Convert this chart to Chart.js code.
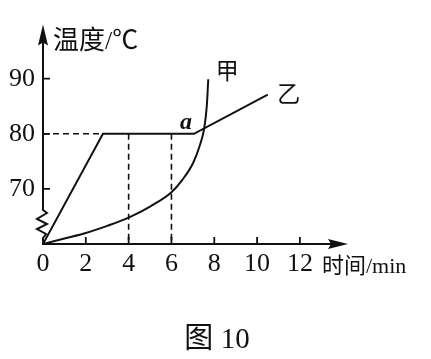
<!DOCTYPE html>
<html>
<head>
<meta charset="utf-8">
<script src="https://cdn.jsdelivr.net/npm/chart.js@4"></script>
<style>
  html, body { margin: 0; padding: 0; background: #fff; }
  #wrap { width: 431px; height: 359px; }
</style>
</head>
<body>
<div id="wrap"><canvas id="tempChart"></canvas></div>
<script>
// 甲、乙两种物质加热时温度随时间变化
const jiaTime = [0, 1, 2, 3, 4, 5, 6, 6.5, 7, 7.3, 7.53, 7.65, 7.72];
const jiaTemp = [60, 61, 62, 63.3, 64.8, 66.8, 69.4, 71.6, 74.6, 77.6, 81, 85, 89.9];
const yiTime = [0, 2.8, 7.05, 10.5];
const yiTemp = [60, 80, 80, 87.1];
const xTicks = [0, 2, 4, 6, 8, 10, 12];
const yTicks = [70, 80, 90];
const guideX = [4, 6];

const pts = (xs, ys) => xs.map((x, i) => ({ x, y: ys[i] }));
const serif = '"Liberation Serif", "Noto Sans CJK SC", serif';

const dashed = {
  borderColor: '#111',
  borderWidth: 1.6,
  borderDash: [6, 4],
  pointRadius: 0,
  fill: false,
};

const decor = {
  id: 'decor',
  afterDraw(chart) {
    const { ctx, chartArea: a, scales: { x, y } } = chart;
    const x0 = x.getPixelForValue(0);
    const y0 = y.getPixelForValue(60);
    ctx.save();
    ctx.strokeStyle = '#111';
    ctx.fillStyle = '#111';
    ctx.lineWidth = 2;
    ctx.lineJoin = 'miter';

    // 纵轴 + 折断号
    ctx.beginPath();
    ctx.moveTo(x0, a.top + 18);
    ctx.lineTo(x0, y0 - 34);
    ctx.lineTo(x0 + 4, y0 - 31);
    ctx.lineTo(x0 - 6, y0 - 25);
    ctx.lineTo(x0 + 4, y0 - 20);
    ctx.lineTo(x0 - 6, y0 - 15);
    ctx.lineTo(x0 + 3, y0 - 10);
    ctx.lineTo(x0, y0 - 6);
    ctx.lineTo(x0, y0);
    ctx.stroke();
    // 纵轴箭头
    ctx.beginPath();
    ctx.moveTo(x0, a.top + 1);
    ctx.lineTo(x0 - 5, a.top + 22);
    ctx.lineTo(x0, a.top + 19);
    ctx.lineTo(x0 + 5, a.top + 22);
    ctx.closePath();
    ctx.fill();

    // 横轴
    ctx.beginPath();
    ctx.moveTo(x0 - 1, y0);
    ctx.lineTo(a.right - 14, y0);
    ctx.stroke();
    ctx.beginPath();
    ctx.moveTo(a.right + 1, y0);
    ctx.lineTo(a.right - 19, y0 - 5);
    ctx.lineTo(a.right - 16, y0);
    ctx.lineTo(a.right - 19, y0 + 5);
    ctx.closePath();
    ctx.fill();

    // 刻度线(向内)
    ctx.lineWidth = 1.8;
    ctx.beginPath();
    xTicks.filter((v) => v > 0).forEach((v) => {
      const px = x.getPixelForValue(v);
      ctx.moveTo(px, y0);
      ctx.lineTo(px, y0 - 7);
    });
    yTicks.forEach((v) => {
      const py = y.getPixelForValue(v);
      ctx.moveTo(x0, py);
      ctx.lineTo(x0 + 7, py);
    });
    ctx.stroke();

    // 文字
    ctx.textBaseline = 'middle';
    ctx.textAlign = 'left';
    ctx.font = '26px ' + serif;
    ctx.fillText('温度/℃', x0 + 10, a.top + 19);
    ctx.font = '22px ' + serif;
    ctx.fillText('时间/min', a.right - 25, y0 + 23);

    ctx.textAlign = 'center';
    ctx.font = '23px ' + serif;
    const jiaEnd = jiaTime.length - 1;
    ctx.fillText('甲', x.getPixelForValue(jiaTime[jiaEnd]) + 19, y.getPixelForValue(jiaTemp[jiaEnd]) - 6);
    const yiEnd = yiTime.length - 1;
    ctx.fillText('乙', x.getPixelForValue(yiTime[yiEnd]) + 21, y.getPixelForValue(yiTemp[yiEnd]) + 1);
    ctx.font = 'italic bold 24px ' + serif;
    ctx.fillText('a', x.getPixelForValue(yiTime[2]) - 8, y.getPixelForValue(yiTemp[2]) - 11);

    ctx.font = '29px ' + serif;
    ctx.fillText('图 10', (a.left + a.right) / 2 + 22, 340);
    ctx.restore();
  }
};

new Chart(document.getElementById('tempChart'), {
  type: 'line',
  data: {
    datasets: [
      {
        label: '甲',
        data: pts(jiaTime, jiaTemp),
        borderColor: '#111',
        borderWidth: 2,
        cubicInterpolationMode: 'monotone',
        pointRadius: 0,
        fill: false,
      },
      {
        label: '乙',
        data: pts(yiTime, yiTemp),
        borderColor: '#111',
        borderWidth: 2,
        tension: 0,
        pointRadius: 0,
        fill: false,
      },
      { ...dashed, data: pts([0, yiTime[1]], [80, 80]) },
      ...guideX.map((g) => ({ ...dashed, data: pts([g, g], [80, 60]) })),
    ]
  },
  options: {
    responsive: true,
    maintainAspectRatio: false,
    animation: false,
    layout: { padding: { left: 0, top: 2, right: 84, bottom: 70 } },
    plugins: { legend: { display: false }, tooltip: { enabled: false } },
    scales: {
      x: {
        type: 'linear',
        min: 0,
        max: 14.2,
        grid: { display: false, drawTicks: false, tickLength: 0 },
        border: { display: false },
        afterBuildTicks(scale) {
          scale.ticks = xTicks.map((v) => ({ value: v }));
        },
        afterFit(scale) { scale.height = 45; },
        ticks: {
          color: '#111',
          padding: 5,
          maxRotation: 0,
          font: { family: serif, size: 26 },
        }
      },
      y: {
        min: 60,
        max: 100,
        grid: { display: false, drawTicks: false, tickLength: 0 },
        border: { display: false },
        afterBuildTicks(scale) {
          scale.ticks = yTicks.map((v) => ({ value: v }));
        },
        afterFit(scale) { scale.width = 43; },
        ticks: {
          color: '#111',
          padding: 8,
          font: { family: serif, size: 26 },
        }
      }
    }
  },
  plugins: [decor]
});
</script>
</body>
</html>
